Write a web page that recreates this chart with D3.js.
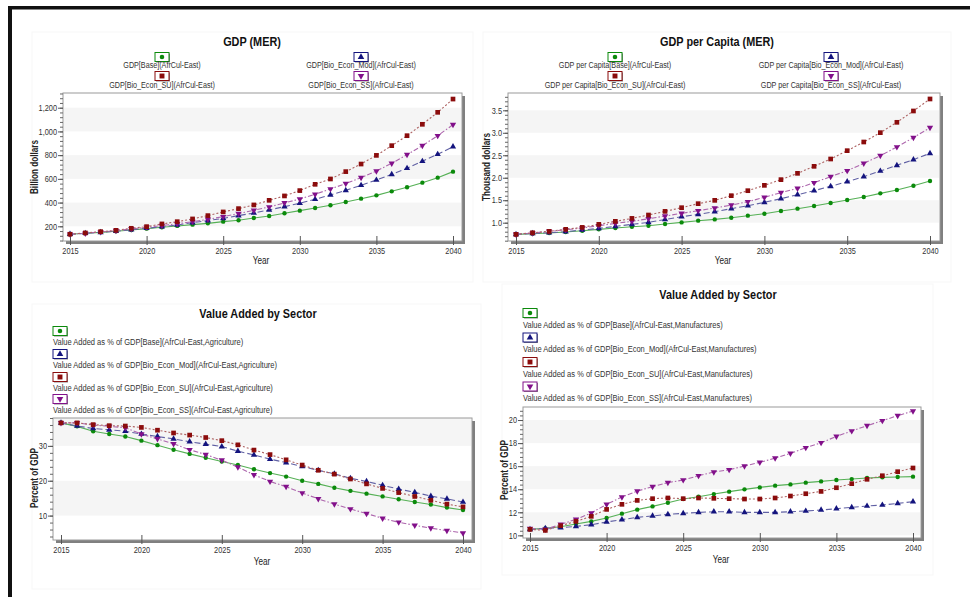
<!DOCTYPE html>
<html><head><meta charset="utf-8">
<script src="https://cdn.jsdelivr.net/npm/d3@7"></script>
<style>body{margin:0;background:#fff;}svg{display:block;}</style>
</head><body>
<svg id="c" width="970" height="597"></svg>
<script>
const years = [2015,2016,2017,2018,2019,2020,2021,2022,2023,2024,2025,2026,2027,2028,2029,2030,2031,2032,2033,2034,2035,2036,2037,2038,2039,2040];
const xTickYears = [2015,2020,2025,2030,2035,2040];
const scenarios = ["Base","Bio_Econ_Mod","Bio_Econ_SU","Bio_Econ_SS"];

// GDP (MER), billion dollars
const gdpBase = [133,141,149,158,169,180,192,203,214,225,239,251,270,287,310,332,354,377,405,433,461,495,529,568,610,661];
const gdpMod  = [133,141,149,158,172,183,197,211,231,248,267,290,312,338,366,394,428,464,503,546,590,638,689,748,807,871];
const gdpSU   = [133,144,155,166,183,197,220,239,262,290,321,349,380,419,456,501,554,599,661,725,798,880,964,1060,1161,1273];
const gdpSS   = [133,141,152,163,178,192,206,222,239,259,281,307,335,363,397,430,470,515,560,610,666,731,804,880,964,1057];
const gdpTicks = [200,400,600,800,1000,1200];

// GDP per capita (MER), thousand dollars
const pcBase = [0.74,0.755,0.77,0.792,0.822,0.852,0.881,0.911,0.933,0.97,1.007,1.045,1.074,1.111,1.156,1.2,1.26,1.312,1.371,1.438,1.504,1.571,1.653,1.727,1.823,1.927];
const pcMod  = [0.74,0.763,0.777,0.8,0.837,0.874,0.918,0.963,1.007,1.07,1.134,1.185,1.245,1.312,1.378,1.453,1.534,1.623,1.712,1.809,1.912,2.024,2.15,2.276,2.402,2.543];
const pcSU   = [0.74,0.777,0.807,0.852,0.896,0.963,1.03,1.096,1.171,1.252,1.334,1.423,1.497,1.601,1.712,1.831,1.958,2.098,2.254,2.417,2.602,2.795,3.003,3.233,3.485,3.752];
const pcSS   = [0.74,0.77,0.807,0.844,0.881,0.933,0.985,1.03,1.089,1.148,1.208,1.267,1.326,1.393,1.467,1.564,1.668,1.764,1.89,2.024,2.157,2.32,2.491,2.684,2.892,3.114];
const pcTicks = [1.0,1.5,2.0,2.5,3.0,3.5];

// Value added, agriculture, % of GDP
const agBase = [36.6,35.6,34.2,33.4,32.7,31.5,30.2,28.9,27.7,26.6,25.5,24.5,23.3,22.2,21.2,20.0,19.1,18.0,17.1,16.3,15.5,14.7,13.9,13.2,12.3,11.6];
const agMod  = [36.6,35.7,35.0,34.6,34.2,33.4,32.7,32.0,31.2,30.5,29.8,28.5,27.4,26.2,25.2,24.1,23.0,22.0,20.7,19.8,18.7,17.6,16.7,15.6,14.8,13.9];
const agSU   = [36.6,36.6,36.1,35.8,35.7,35.3,34.5,33.7,33.1,32.4,31.5,30.3,28.8,27.5,26.0,24.5,23.0,21.9,20.5,19.1,17.8,16.6,15.5,14.4,13.3,12.5];
const agSS   = [36.6,36.6,36.0,35.6,35.2,33.4,32.0,30.6,28.9,27.5,25.9,23.9,21.7,19.8,18.3,16.5,14.8,13.3,11.9,10.6,9.2,8.1,7.2,6.4,5.7,5.0];
const agTicks = [10,20,30];

// Value added, manufactures, % of GDP
const mfBase = [10.52,10.61,10.75,10.98,11.21,11.50,11.88,12.23,12.51,12.83,13.15,13.35,13.58,13.79,13.99,14.16,14.31,14.42,14.57,14.68,14.80,14.88,14.97,15.03,15.06,15.09];
const mfMod  = [10.52,10.61,10.66,10.78,10.92,11.16,11.36,11.56,11.68,11.82,11.91,11.99,12.05,12.05,11.99,11.99,11.99,12.05,12.11,12.20,12.31,12.43,12.54,12.63,12.77,12.92];
const mfSU   = [10.52,10.43,10.84,11.21,11.65,12.25,12.69,13.03,13.18,13.24,13.18,13.24,13.21,13.18,13.15,13.15,13.24,13.41,13.61,13.81,14.13,14.48,14.86,15.17,15.52,15.84];
const mfSS   = [10.58,10.52,10.95,11.39,11.94,12.69,13.32,13.84,14.22,14.57,14.80,15.17,15.49,15.69,16.01,16.33,16.70,17.11,17.60,18.03,18.58,19.05,19.51,19.94,20.38,20.78];
const mfTicks = [10,12,14,16,18,20];

const styles = {
  "Base":         {line:"#55b055", mark:"#0b8a0b", dash:null,        sym:d3.symbolCircle,   size:15, rot:0},
  "Bio_Econ_Mod": {line:"#6060a4", mark:"#14147e", dash:"6,3",       sym:d3.symbolTriangle, size:17, rot:0},
  "Bio_Econ_SU":  {line:"#ad6262", mark:"#8b0c0c", dash:"2,2",       sym:d3.symbolSquare,   size:22, rot:0},
  "Bio_Econ_SS":  {line:"#ad66ad", mark:"#82108a", dash:"5,2,1.5,2", sym:d3.symbolTriangle, size:17, rot:180}
};

const svg = d3.select("#c");
const FONT = "'Liberation Sans', Arial, sans-serif";

function txt(g, x, y, s, o={}) {
  const size=o.size||9, sx=o.sx||0.82, rot=o.rot||0;
  return g.append("text")
    .attr("transform",`translate(${x},${y}) rotate(${rot}) scale(${sx},1)`)
    .attr("text-anchor", o.anchor||"middle")
    .attr("dominant-baseline","central")
    .style("font-family",FONT).style("font-size",size+"px")
    .style("font-weight",o.weight||"normal")
    .style("fill",o.fill||"#222")
    .text(s);
}

// outer black frame
svg.append("rect").attr("x",8).attr("y",6).attr("width",962).attr("height",3.5).attr("fill","#111");
svg.append("rect").attr("x",8).attr("y",6).attr("width",4).attr("height",591).attr("fill","#111");

// faint panel frames
[[32,32,441,250],[483,32,468,250],[32,304,449,285],[502,284,431,291]].forEach(r=>{
  svg.append("rect").attr("x",r[0]).attr("y",r[1]).attr("width",r[2]).attr("height",r[3])
    .attr("fill","none").attr("stroke","#f7f7f7").attr("stroke-width",1);
});

function legendBox(g, cx, cy, key) {
  const st = styles[key];
  g.append("rect").attr("x",cx-6).attr("y",cy-3.5).attr("width",14).attr("height",9).attr("fill","#888");
  g.append("rect").attr("x",cx-7).attr("y",cy-4.5).attr("width",14).attr("height",9)
    .attr("fill","#fff").attr("stroke",st.mark).attr("stroke-width",1);
  g.append("path").attr("d",d3.symbol(st.sym, st.size*1.1)())
    .attr("transform",`translate(${cx},${cy}) rotate(${st.rot})`).attr("fill",st.mark);
}

function panel(cfg) {
  const g = svg.append("g");
  const p = cfg.plot;
  const x = d3.scaleLinear().domain([2015,2040]).range(cfg.xRange);
  const y = d3.scaleLinear().domain(cfg.yDomain).range([p.y+p.h, p.y]);

  // title
  txt(g, cfg.title[0], cfg.title[1], cfg.title[2], {size:12.5, weight:"bold", sx:0.87, fill:"#111"});

  // legend
  cfg.legend.forEach(L=>{
    legendBox(g, L.bx, L.by, L.key);
    txt(g, L.tx, L.ty, L.label, {size:L.size||9, sx:0.8, anchor:L.anchor||"middle", fill:"#333"});
  });

  // shadow + plot background
  g.append("rect").attr("x",p.x+3).attr("y",p.y+3).attr("width",p.w).attr("height",p.h).attr("fill","#808080");
  g.append("rect").attr("x",p.x).attr("y",p.y).attr("width",p.w).attr("height",p.h).attr("fill","#fff");
  // bands
  for (let i=0;i<cfg.yTicks.length;i+=2) {
    const lo = cfg.yTicks[i];
    const hi = i+1<cfg.yTicks.length ? cfg.yTicks[i+1] : cfg.yTicks[i]+(cfg.yTicks[1]-cfg.yTicks[0]);
    const y0 = Math.min(y(lo), p.y+p.h), y1 = Math.max(y(hi), p.y);
    g.append("rect").attr("x",p.x+1).attr("y",y1).attr("width",p.w-2).attr("height",y0-y1).attr("fill","#f5f5f5");
  }
  g.append("rect").attr("x",p.x).attr("y",p.y).attr("width",p.w).attr("height",p.h)
    .attr("fill","none").attr("stroke","#9a9a9a").attr("stroke-width",1);

  // x axis
  const xa = g.append("g").attr("transform",`translate(0,${p.y+p.h})`)
    .call(d3.axisBottom(x).tickValues(xTickYears).tickSize(4).tickFormat(d3.format("d")));
  xa.select(".domain").remove();
  xa.selectAll(".tick line").attr("y1",-5).attr("y2",4).attr("stroke","#555");
  xa.selectAll(".tick text").attr("x",null).attr("y",null).attr("dy",null)
    .attr("transform","translate(0,10) scale(0.82,1)").attr("dominant-baseline","central")
    .style("font-family",FONT).style("font-size","9px").style("fill","#333");

  // y axis
  const step = cfg.yTicks[1]-cfg.yTicks[0];
  const minor = [];
  const sub = step/5;
  const start = Math.ceil(cfg.yDomain[0]/sub);
  for (let k=start; k*sub<=cfg.yDomain[1]; k++) minor.push(+(k*sub).toFixed(6));
  const ym = g.append("g").attr("transform",`translate(${p.x},0)`)
    .call(d3.axisLeft(y).tickValues(minor).tickSize(3).tickFormat(""));
  ym.select(".domain").remove();
  ym.selectAll(".tick line").attr("stroke","#666");
  const ya = g.append("g").attr("transform",`translate(${p.x},0)`)
    .call(d3.axisLeft(y).tickValues(cfg.yTicks).tickSize(5).tickFormat(cfg.fmt));
  ya.select(".domain").remove();
  ya.selectAll(".tick line").attr("stroke","#555");
  ya.selectAll(".tick text").attr("x",null).attr("dy",null)
    .attr("transform","translate(-6,0) scale(0.82,1)").attr("dominant-baseline","central")
    .style("font-family",FONT).style("font-size","9px").style("fill","#333");

  // axis titles
  txt(g, cfg.ylab[0], cfg.ylab[1], cfg.ylab[2], {size:10, weight:"bold", sx:0.82, rot:-90, fill:"#222"});
  txt(g, cfg.xlab[0], cfg.xlab[1], "Year", {size:10, sx:0.82, fill:"#222"});

  // series
  const line = d3.line().x((d,i)=>x(years[i])).y(d=>y(d));
  const order = ["Base","Bio_Econ_Mod","Bio_Econ_SS","Bio_Econ_SU"];
  order.forEach(key=>{
    const st = styles[key], vals = cfg.series[key];
    g.append("path").datum(vals).attr("d",line).attr("fill","none")
      .attr("stroke",st.line).attr("stroke-width",1.1)
      .attr("stroke-dasharray",st.dash);
  });
  order.forEach(key=>{
    const st = styles[key], vals = cfg.series[key];
    g.append("g").selectAll("path").data(vals).join("path")
      .attr("d",d3.symbol(st.sym, st.size)())
      .attr("transform",(d,i)=>`translate(${x(years[i])},${y(d)}) rotate(${st.rot})`)
      .attr("fill",st.mark);
  });
}

// Panel 1: GDP (MER)
panel({
  plot:{x:63,y:93,w:399,h:148}, xRange:[70,453], yDomain:[76,1324], yTicks:gdpTicks, fmt:d3.format(","),
  title:[252,41,"GDP (MER)"], ylab:[35,167,"Billion dollars"], xlab:[261,261],
  series:{"Base":gdpBase,"Bio_Econ_Mod":gdpMod,"Bio_Econ_SU":gdpSU,"Bio_Econ_SS":gdpSS},
  legend:[
    {key:"Base", bx:162,by:57, tx:162,ty:65.5, label:"GDP[Base](AfrCul-East)"},
    {key:"Bio_Econ_Mod", bx:361,by:57, tx:361,ty:65.5, label:"GDP[Bio_Econ_Mod](AfrCul-East)"},
    {key:"Bio_Econ_SU", bx:162,by:76, tx:162,ty:85.5, label:"GDP[Bio_Econ_SU](AfrCul-East)"},
    {key:"Bio_Econ_SS", bx:361,by:76, tx:361,ty:85.5, label:"GDP[Bio_Econ_SS](AfrCul-East)"}
  ]
});

// Panel 2: GDP per Capita (MER)
panel({
  plot:{x:508,y:93,w:432,h:148}, xRange:[516,930], yDomain:[0.593,3.885], yTicks:pcTicks, fmt:d3.format(".1f"),
  title:[717,41,"GDP per Capita (MER)"], ylab:[487,167,"Thousand dollars"], xlab:[723,261],
  series:{"Base":pcBase,"Bio_Econ_Mod":pcMod,"Bio_Econ_SU":pcSU,"Bio_Econ_SS":pcSS},
  legend:[
    {key:"Base", bx:615,by:57, tx:615,ty:65.5, label:"GDP per Capita[Base](AfrCul-East)"},
    {key:"Bio_Econ_Mod", bx:831,by:57, tx:831,ty:65.5, label:"GDP per Capita[Bio_Econ_Mod](AfrCul-East)"},
    {key:"Bio_Econ_SU", bx:615,by:76, tx:615,ty:85.5, label:"GDP per Capita[Bio_Econ_SU](AfrCul-East)"},
    {key:"Bio_Econ_SS", bx:831,by:76, tx:831,ty:85.5, label:"GDP per Capita[Bio_Econ_SS](AfrCul-East)"}
  ]
});

// Panel 3: Value Added by Sector (Agriculture)
const agLegY = [331,354,377,399];
panel({
  plot:{x:53,y:418,w:419,h:122}, xRange:[61,463], yDomain:[3,38], yTicks:agTicks, fmt:d3.format("d"),
  title:[258,313,"Value Added by Sector"], ylab:[35,478,"Percent of GDP"], xlab:[262,562],
  series:{"Base":agBase,"Bio_Econ_Mod":agMod,"Bio_Econ_SU":agSU,"Bio_Econ_SS":agSS},
  legend:scenarios.map((s,i)=>({key:s, bx:60, by:agLegY[i], tx:53, ty:agLegY[i]+11, anchor:"start", size:9.4,
    label:`Value Added as % of GDP[${s}](AfrCul-East,Agriculture)`}))
});

// Panel 4: Value Added by Sector (Manufactures)
const mfLegY = [313,337.5,362,386.5];
panel({
  plot:{x:523,y:407,w:398,h:131}, xRange:[530,913], yDomain:[9.77,21.13], yTicks:mfTicks, fmt:d3.format("d"),
  title:[718,294,"Value Added by Sector"], ylab:[505,470,"Percent of GDP"], xlab:[721,560],
  series:{"Base":mfBase,"Bio_Econ_Mod":mfMod,"Bio_Econ_SU":mfSU,"Bio_Econ_SS":mfSS},
  legend:scenarios.map((s,i)=>({key:s, bx:530, by:mfLegY[i], tx:523, ty:mfLegY[i]+11.5, anchor:"start", size:9.4,
    label:`Value Added as % of GDP[${s}](AfrCul-East,Manufactures)`}))
});
</script>
</body></html>
